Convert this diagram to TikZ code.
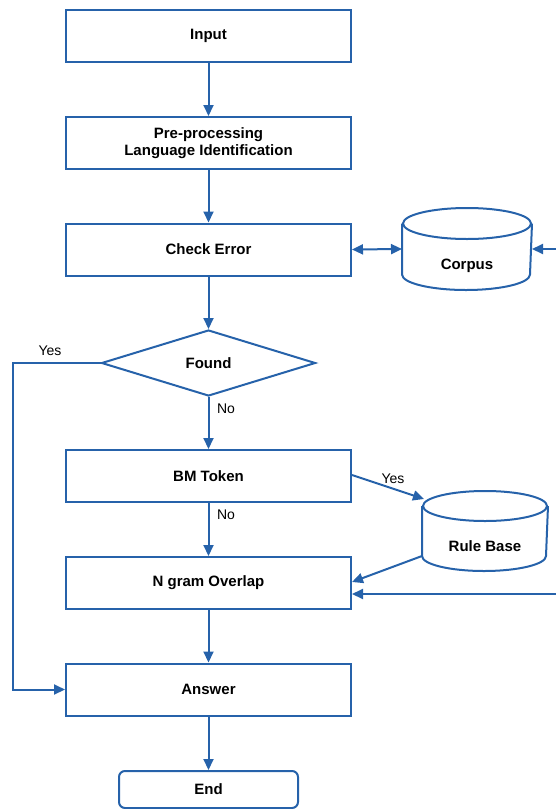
\documentclass[tikz,border=0pt]{standalone}
\usepackage{fontspec}
\setmainfont{Liberation Sans}
\usetikzlibrary{arrows.meta,shapes.geometric}
\definecolor{flowblue}{RGB}{38,98,170}
\begin{document}
\begin{tikzpicture}[x=1pt,y=-1pt,
  line width=2pt,
  arr/.style={draw=flowblue, -{Triangle[length=11pt,width=10pt]}},
  darr/.style={draw=flowblue, {Triangle[length=11pt,width=10pt]}-{Triangle[length=11pt,width=10pt]}},
  outline/.style={draw=flowblue, line width=2pt},
  txt/.style={font=\bfseries\fontsize{15}{16.5}\selectfont, text=black, align=center},
  lbl/.style={font=\fontsize{14}{15}\selectfont, text=black, inner sep=0pt},
  procbox/.style={outline, txt, minimum width=285pt, minimum height=52pt, inner sep=0pt},
  store/.style={inner sep=0pt}
]
\useasboundingbox (0,0) rectangle (555,809);

% process boxes
\node[procbox] (input)  at (208.5,36)  {Input};
\node[procbox] (prep)   at (208.5,143) {Pre-processing\\Language Identification};
\node[procbox] (check)  at (208.5,249.5) {Check Error};
\node[outline, txt, diamond, minimum width=214pt, minimum height=66pt, inner sep=0pt] (found) at (208.5,363) {Found};
\node[procbox] (bm)     at (208.5,476) {BM Token};
\node[procbox] (ngram)  at (208.5,583) {N gram Overlap};
\node[procbox] (answer) at (208.5,689.5) {Answer};
\node[outline, txt, rounded corners=6pt, minimum width=179pt, minimum height=37pt, inner sep=0pt] (endnode) at (208.5,789.5) {End};

% data stores (cylinders)
\node[store, minimum width=128pt, minimum height=80pt] (corpus) at (467,249) {};
\draw[outline] ([yshift=-15.5pt]corpus.north west) -- ([yshift=15.5pt]corpus.south west)
  arc[start angle=180, end angle=360, x radius=64pt, y radius=15.5pt]
  -- ([yshift=-15.5pt]corpus.north east);
\draw[outline] ([yshift=-15.5pt]corpus.north) ellipse[x radius=64pt, y radius=15.5pt];
\node[txt] (corpustext) at (467,266) {Corpus};

\node[store, minimum width=124pt, minimum height=78pt] (rulebase) at (485,531) {};
\draw[outline] ([yshift=-15pt]rulebase.north west) -- ([yshift=15pt]rulebase.south west)
  arc[start angle=180, end angle=360, x radius=62pt, y radius=15pt]
  -- ([yshift=-15pt]rulebase.north east);
\draw[outline] ([yshift=-15pt]rulebase.north) ellipse[x radius=62pt, y radius=15pt];
\node[txt] (rbtext) at (485,546) {Rule Base};

% main flow
\draw[arr] (input) -- (prep);
\draw[arr] (prep) -- (check);
\draw[arr] (check) -- (found);
\draw[arr] (found) -- (bm);
\draw[arr] (bm) -- (ngram);
\draw[arr] (ngram) -- (answer);
\draw[arr] (answer) -- (endnode);

% corpus links
\draw[darr] (check.east) -- (corpus.west);
\coordinate (corpusfeed) at (560,249);
\draw[arr] (corpusfeed) -- (corpus.east);

% yes branch of the decision
\coordinate (yesbend) at (13,363);
\draw[arr] (found.west) -- (yesbend) |- (answer.west);

% rule base links
\draw[arr] ([yshift=1pt]bm.east) -- ([shift={(2pt,-8pt)}]rulebase.north west);
\draw[arr] ([yshift=15pt]rulebase.south west) -- ([yshift=1pt]ngram.east);
\coordinate (ngramfeed) at (560,594);
\draw[arr] (ngramfeed) -- ([yshift=-11pt]ngram.east);

% labels
\node[lbl] (yes1) at (50,351) {Yes};
\node[lbl] (no1)  at (226,409) {No};
\node[lbl] (no2)  at (226,515) {No};
\node[lbl] (yes2) at (393,479) {Yes};
\end{tikzpicture}
\end{document}
